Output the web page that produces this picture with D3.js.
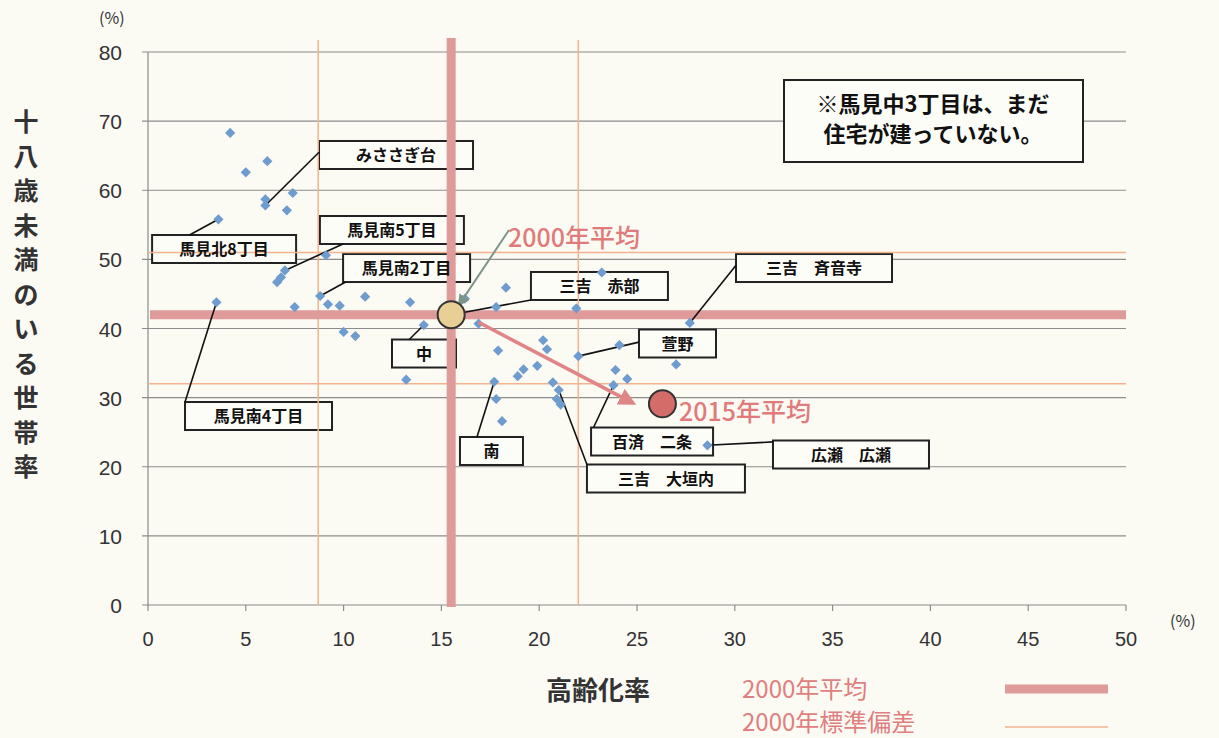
<!DOCTYPE html>
<html><head><meta charset="utf-8">
<script src="https://cdn.jsdelivr.net/npm/d3@7"></script>
<style>
html,body{margin:0;padding:0;background:#fbfaf3;}
svg{display:block;}
</style></head>
<body>
<svg id="chart" width="1219" height="738"></svg>
<script>
// ---- data ----
const xTicks = [0,5,10,15,20,25,30,35,40,45,50];
const yTicks = [0,10,20,30,40,50,60,70,80];
const agingRate = [4.2,5.0,6.1,6.0,6.0,7.4,7.1,3.6,9.1,7.0,6.8,6.6,3.5,7.5,8.8,9.2,9.8,11.1,13.4,10.0,10.6,14.1,13.2,16.2,17.8,16.9,18.3,17.9,20.2,20.4,19.9,19.2,18.9,17.7,17.8,18.1,20.7,21.0,20.9,21.1,22.0,21.9,23.2,24.1,23.9,24.5,23.8,27.7,27.0,28.6];
const childRate  = [68.3,62.6,64.2,58.7,57.8,59.6,57.1,55.8,50.6,48.4,47.4,46.7,43.8,43.1,44.7,43.5,43.3,44.6,43.8,39.5,38.9,40.5,32.6,44.3,43.1,40.7,45.9,36.8,38.3,37.0,34.6,34.1,33.1,32.3,29.8,26.6,32.2,31.1,29.8,29.0,36.0,42.9,48.1,37.6,34.0,32.7,31.8,40.8,34.8,23.1];
const mean2000 = {x:15.5, y:42.0};
const mean2015 = {x:26.3, y:29.1};
const sd2000X = [8.7, 22.0];
const sd2000Y = [32.0, 51.0];
const labelNames  = ["みささぎ台","馬見北8丁目","馬見南5丁目","馬見南2丁目","三吉　赤部","中","馬見南4丁目","南","三吉　大垣内","百済　二条","広瀬　広瀬","萱野","三吉　斉音寺"];
const labelTargetIdx = [4,7,9,14,-1,21,12,33,37,46,49,40,47]; // -1 = 2000 mean
// ---- layout (box centre in data units, box width px, leader attach fraction) ----
const labelBoxX = [12.68,3.89,12.47,13.22,23.08,14.11,5.65,17.56,26.48,25.77,35.94,27.07,34.05];
const labelBoxY = [65.1,51.5,54.25,48.75,46.15,36.38,27.34,22.28,18.3,23.65,21.77,37.83,48.75];
const labelBoxW = [154,144,144,127,137,64,147,63,158,122,156,77,156];
const labelAttach = [[0,0.4],[0.26,0],[0.16,1],[0.02,1],[0,1],[0.27,0],[0,0],[0.27,0],[0,0],[0.02,0],[0,0.05],[0,0.45],[0,0.4]];

const svg = d3.select("#chart");
const x = d3.scaleLinear().domain([0,50]).range([148,1126]);
const y = d3.scaleLinear().domain([0,80]).range([605,52]);
const jp = "'Noto Sans CJK JP','Noto Sans',sans-serif";
const num = "'Liberation Sans',Arial,sans-serif";

// gridlines
svg.append("g").selectAll("line").data(yTicks).join("line")
  .attr("x1",142).attr("x2",x(50)).attr("y1",d=>y(d)).attr("y2",d=>y(d))
  .attr("stroke","#8c8c8c").attr("stroke-width",1.2);
svg.append("line").attr("x1",x(0)).attr("x2",x(0)).attr("y1",y(80)).attr("y2",y(0)+1)
  .attr("stroke","#8c8c8c").attr("stroke-width",1.2);
// x axis ticks
svg.append("g").selectAll("line").data(xTicks).join("line")
  .attr("x1",d=>x(d)).attr("x2",d=>x(d)).attr("y1",y(0)).attr("y2",y(0)+6)
  .attr("stroke","#8c8c8c").attr("stroke-width",1.2);
// tick labels
svg.append("g").selectAll("text").data(yTicks).join("text")
  .attr("x",122).attr("y",d=>y(d)+8).attr("text-anchor","end")
  .attr("font-family",num).attr("font-size",21).attr("fill","#333").text(d=>d);
svg.append("g").selectAll("text").data(xTicks).join("text")
  .attr("x",d=>x(d)).attr("y",646).attr("text-anchor","middle")
  .attr("font-family",num).attr("font-size",20).attr("fill","#333").text(d=>d);
svg.append("text").attr("x",99).attr("y",24).attr("font-family",jp).attr("font-size",16).attr("fill","#333").text("(%)");
svg.append("text").attr("x",1170).attr("y",627).attr("font-family",jp).attr("font-size",16).attr("fill","#333").text("(%)");

// y title (vertical)
const yTitle = "十八歳未満のいる世帯率";
svg.append("g").selectAll("text").data(Array.from(yTitle)).join("text")
  .attr("x",26).attr("y",(d,i)=>122+i*34.5+9).attr("text-anchor","middle")
  .attr("font-family",jp).attr("font-weight",700).attr("font-size",25).attr("fill","#333").text(d=>d);
// x title
svg.append("text").attr("x",598).attr("y",700).attr("text-anchor","middle")
  .attr("font-family",jp).attr("font-weight",700).attr("font-size",26).attr("fill","#333").text("高齢化率");
// legend
svg.append("text").attr("x",742).attr("y",698).attr("font-family",jp).attr("font-size",24).attr("fill","#e07f7f").text("2000年平均");
svg.append("text").attr("x",742).attr("y",731).attr("font-family",jp).attr("font-size",24).attr("fill","#e07f7f").text("2000年標準偏差");
svg.append("line").attr("x1",1005).attr("x2",1108).attr("y1",689).attr("y2",689).attr("stroke","#df9a9a").attr("stroke-width",9);
svg.append("line").attr("x1",1005).attr("x2",1108).attr("y1",727).attr("y2",727).attr("stroke","#f2b48e").attr("stroke-width",1.5);

// label boxes (fill)
const boxH = 28;
const boxes = labelNames.map((n,i)=>{
  const cx = x(labelBoxX[i]), cy = y(labelBoxY[i]), w = labelBoxW[i];
  return {name:n, x0:cx-w/2, y0:cy-boxH/2, w:w, cx:cx, cy:cy, i:i};
});
svg.append("g").selectAll("rect").data(boxes).join("rect")
  .attr("x",d=>d.x0).attr("y",d=>d.y0).attr("width",d=>d.w).attr("height",boxH)
  .attr("fill","#fdfdf8").attr("stroke","#222").attr("stroke-width",2);

// note box
svg.append("rect").attr("x",784).attr("y",80).attr("width",299).attr("height",82)
  .attr("fill","#fdfdf8").attr("stroke","#222").attr("stroke-width",2);
svg.append("text").attr("x",933).attr("y",112).attr("text-anchor","middle").attr("font-family",jp).attr("font-weight",700).attr("font-size",22).attr("fill","#111").text("※馬見中3丁目は、まだ");
svg.append("text").attr("x",933).attr("y",142).attr("text-anchor","middle").attr("font-family",jp).attr("font-weight",700).attr("font-size",22).attr("fill","#111").text("住宅が建っていない。");

// SD lines
svg.append("g").selectAll("line").data(sd2000X).join("line")
  .attr("x1",d=>x(d)).attr("x2",d=>x(d)).attr("y1",40).attr("y2",y(0))
  .attr("stroke","#f2b48e").attr("stroke-width",1.5);
svg.append("g").selectAll("line").data(sd2000Y).join("line")
  .attr("x1",x(0)).attr("x2",x(50)).attr("y1",d=>y(d)).attr("y2",d=>y(d))
  .attr("stroke","#f2b48e").attr("stroke-width",1.5);
// mean lines
svg.append("line").attr("x1",x(mean2000.x)).attr("x2",x(mean2000.x)).attr("y1",38).attr("y2",y(0)+2)
  .attr("stroke","#df9a9a").attr("stroke-width",9);
svg.append("line").attr("x1",x(0)+2).attr("x2",x(50)).attr("y1",y(mean2000.y)).attr("y2",y(mean2000.y))
  .attr("stroke","#df9a9a").attr("stroke-width",9);

// leaders
svg.append("g").selectAll("line").data(boxes).join("line")
  .attr("x1",d=>d.x0+labelAttach[d.i][0]*d.w).attr("y1",d=>d.y0+labelAttach[d.i][1]*boxH)
  .attr("x2",d=>{const t=labelTargetIdx[d.i]; return t<0? x(mean2000.x): x(agingRate[t]);})
  .attr("y2",d=>{const t=labelTargetIdx[d.i]; return t<0? y(mean2000.y): y(childRate[t]);})
  .attr("stroke","#111").attr("stroke-width",1.6);

// points (square rotated 45deg)
svg.append("g").selectAll("path").data(agingRate.map((v,i)=>[v,childRate[i]])).join("path")
  .attr("d",d3.symbol().type(d3.symbolSquare).size(52))
  .attr("transform",d=>`translate(${x(d[0])},${y(d[1])}) rotate(45)`)
  .attr("fill","#6f9ccf");

// arrows
const defs = svg.append("defs");
defs.append("marker").attr("id","ah-red").attr("viewBox","0 0 10 10").attr("refX",8).attr("refY",5)
  .attr("markerWidth",5).attr("markerHeight",5).attr("orient","auto")
  .append("path").attr("d","M0,0 L10,5 L0,10 z").attr("fill","#e08585");
defs.append("marker").attr("id","ah-gray").attr("viewBox","0 0 10 10").attr("refX",8).attr("refY",5)
  .attr("markerWidth",6).attr("markerHeight",6).attr("orient","auto")
  .append("path").attr("d","M0,0 L10,5 L0,10 z").attr("fill","#7c958a");
svg.append("line").attr("x1",x(16.9)).attr("y1",y(40.9)).attr("x2",x(24.8)).attr("y2",y(29.2))
  .attr("stroke","#e08585").attr("stroke-width",3.5).attr("marker-end","url(#ah-red)");
svg.append("line").attr("x1",509).attr("y1",230).attr("x2",x(mean2000.x)+8).attr("y2",y(mean2000.y)-10)
  .attr("stroke","#7c958a").attr("stroke-width",2).attr("marker-end","url(#ah-gray)");

// mean circles
svg.append("circle").attr("cx",x(mean2000.x)).attr("cy",y(mean2000.y)).attr("r",13.5)
  .attr("fill","#e8cf96").attr("stroke","#333").attr("stroke-width",2);
svg.append("circle").attr("cx",x(mean2015.x)).attr("cy",y(mean2015.y)).attr("r",13.5)
  .attr("fill","#d46c6a").attr("stroke","#333").attr("stroke-width",2);

// label text
svg.append("g").selectAll("text").data(boxes).join("text")
  .attr("x",d=>d.cx).attr("y",d=>d.cy+6).attr("text-anchor","middle")
  .attr("font-family",jp).attr("font-weight",700).attr("font-size",16).attr("fill","#111").text(d=>d.name);

// mean annotations
svg.append("text").attr("x",508).attr("y",247).attr("font-family",jp).attr("font-weight",500).attr("font-size",25).attr("fill","#e07b7b").text("2000年平均");
svg.append("text").attr("x",679).attr("y",421).attr("font-family",jp).attr("font-weight",500).attr("font-size",25).attr("fill","#e07b7b").text("2015年平均");
</script>
</body></html>
